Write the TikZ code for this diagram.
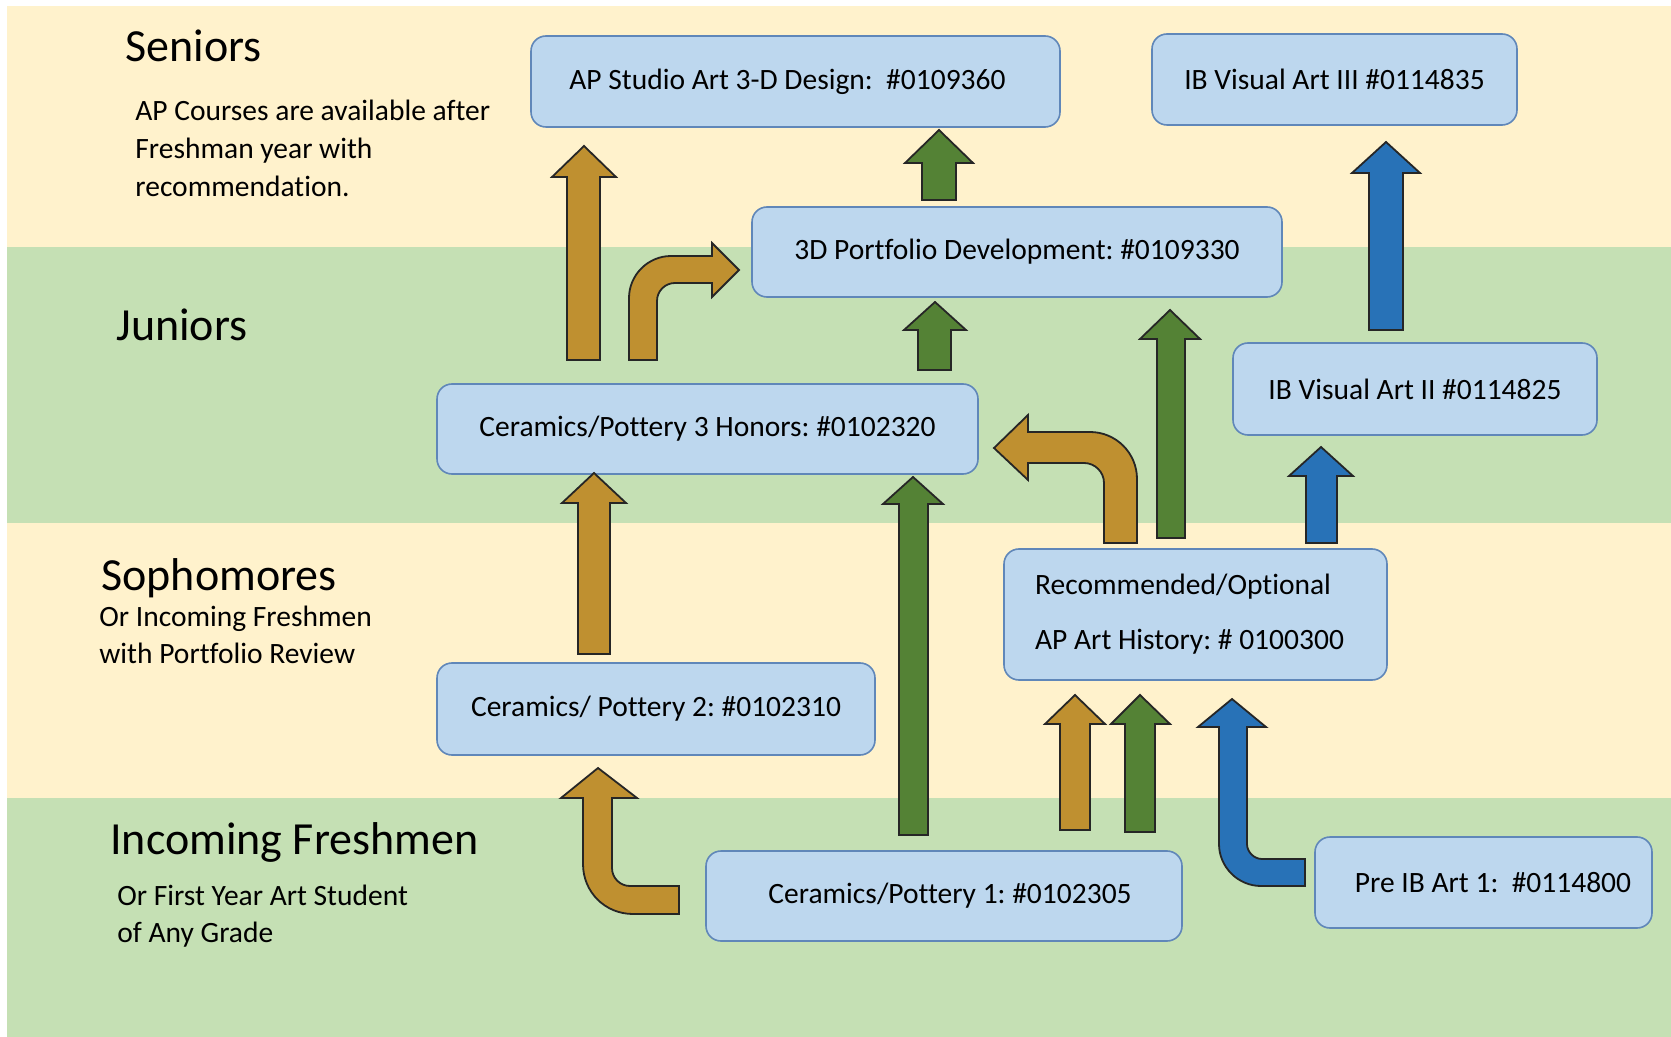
\documentclass[tikz,border=0pt]{standalone}
\usepackage{fontspec}
\setmainfont{Carlito}[Ligatures={NoCommon}]
\definecolor{cream}{RGB}{255,242,204}
\definecolor{lgreen}{RGB}{197,224,180}
\definecolor{boxfill}{RGB}{189,215,238}
\definecolor{boxline}{RGB}{96,135,185}
\definecolor{gold}{RGB}{191,144,48}
\definecolor{dgreen}{RGB}{84,130,53}
\definecolor{dblue}{RGB}{40,114,183}
\tikzset{
  course/.style={draw=boxline, fill=boxfill, line width=0.8pt, rounded corners=7.5pt,
    inner sep=0pt, font=\fontsize{14.75}{17}\selectfont},
  blockarrow/.style={draw=black!85, line width=0.9pt, line join=miter},
  heading/.style={anchor=base west, inner sep=0pt, font=\fontsize{23}{27}\selectfont},
  note/.style={anchor=base west, inner sep=0pt, font=\fontsize{14.75}{18}\selectfont},
}
% color, xl, xr, ybottom, yheadbase, headleft, headright, ytip, xtip
\newcommand\uparr[9]{\draw[blockarrow, fill=#1] (#2,#4) -- (#2,#5) -- (#6,#5) -- (#9,#8) -- (#7,#5) -- (#3,#5) -- (#3,#4) -- cycle;}
\begin{document}
\frenchspacing
\begin{tikzpicture}[x=0.5pt, y=-0.5pt]
\useasboundingbox (0,0) rectangle (1671,1037);
\fill[white] (0,0) rectangle (1671,1037);
% bands
\fill[cream]  (7,6)   rectangle (1671,247);
\fill[lgreen] (7,247) rectangle (1671,523);
\fill[cream]  (7,523) rectangle (1671,798);
\fill[lgreen] (7,798) rectangle (1671,1037);

% labels
\node[heading] (seniors) at (125,62) {Seniors};
\node[note] (sn1) at (135,121) {AP Courses are available after};
\node[note] (sn2) at (135,159) {Freshman year with};
\node[note] (sn3) at (135,197) {recommendation.};
\node[heading] (juniors) at (116,341) {Juniors};
\node[heading] (sophomores) at (101,590) {Sophomores};
\node[note] (so1) at (99,626) {Or Incoming Freshmen};
\node[note] (so2) at (99,663) {with Portfolio Review};
\node[heading] (freshmen) at (110,854) {Incoming Freshmen};
\node[note] (fr1) at (117,905) {Or First Year Art Student};
\node[note] (fr2) at (117,942) {of Any Grade};

% course boxes
\node[course, minimum width=264.5pt, minimum height=45.5pt] (apstudio) at (795.5,81.5) {AP Studio Art 3-D Design:\ \ \#0109360\hspace*{8pt}};
\node[course, minimum width=182.5pt, minimum height=45.5pt] (ib3) at (1334.5,79.5) {IB Visual Art III \#0114835};
\node[course, minimum width=265pt, minimum height=45pt] (port) at (1017,252) {3D Portfolio Development: \#0109330};
\node[course, minimum width=270.5pt, minimum height=45pt] (cer3) at (707.5,429) {Ceramics/Pottery 3 Honors: \#0102320};
\node[course, minimum width=182pt, minimum height=46pt] (ib2) at (1415,389) {IB Visual Art II \#0114825};
\node[course, minimum width=191.5pt, minimum height=65.5pt, align=left,
      font=\fontsize{14.75}{27.5}\selectfont] (arthist) at (1195.5,614.5) {Recommended/Optional\\AP Art History: \# 0100300\hspace*{6pt}};
\node[course, minimum width=219pt, minimum height=46pt] (cer2) at (656,709) {Ceramics/ Pottery 2: \#0102310};
\node[course, minimum width=238pt, minimum height=45pt] (cer1) at (944,896) {\hspace*{6pt}Ceramics/Pottery 1: \#0102305};
\node[course, minimum width=168.5pt, minimum height=45.5pt] (preib) at (1483.5,882.5) {\hspace*{9.5pt}Pre IB Art 1:\ \ \#0114800};

% straight block arrows
\uparr{gold}{567}{600}{360}{177}{552}{616}{146}{584}
\uparr{dgreen}{922}{956}{200}{163}{905}{973}{130}{939}
\uparr{dgreen}{918}{951}{370}{330}{904}{966}{302}{935}
\uparr{dgreen}{1157}{1185}{538}{339}{1140}{1200}{310}{1170}
\uparr{dblue}{1306}{1337}{543}{476}{1289}{1353}{447}{1321}
\uparr{gold}{1060}{1090}{830}{724}{1045}{1105}{695}{1075}
\uparr{dgreen}{1125}{1155}{832}{724}{1111}{1170}{695}{1140}
\uparr{dgreen}{899}{928}{835}{504}{883}{943}{477}{913}
\uparr{gold}{578}{610}{654}{503}{562}{626}{473}{594}
\uparr{dblue}{1369}{1403}{330}{173}{1352}{1420}{142}{1386}

% bent block arrows
\draw[blockarrow, fill=gold] (629,360) -- (629,298) .. controls (629,275) and (648,256) .. (671,256)
  -- (712,256) -- (712,243) -- (739,270) -- (712,297) -- (712,283) -- (675,283)
  .. controls (665,283) and (657,291) .. (657,301) -- (657,360) -- cycle;
\draw[blockarrow, fill=gold] (1137,543) -- (1137,479) .. controls (1137,453) and (1116,432) .. (1090,432)
  -- (1028,432) -- (1028,415) -- (994,448) -- (1028,480) -- (1028,463) -- (1084,463)
  .. controls (1095,463) and (1104,472) .. (1104,483) -- (1104,543) -- cycle;
\draw[blockarrow, fill=dblue] (1232,699) -- (1266,727) -- (1247,727) -- (1247,844)
  .. controls (1247,852) and (1254,859) .. (1262,859) -- (1305,859) -- (1305,886) -- (1261,886)
  .. controls (1238,886) and (1219,867) .. (1219,844) -- (1219,727) -- (1198,727) -- cycle;
\draw[blockarrow, fill=gold] (598,768) -- (637,798) -- (612,798) -- (612,868)
  .. controls (612,878) and (620,886) .. (630,886) -- (679,886) -- (679,914) -- (633,914)
  .. controls (605,914) and (583,892) .. (583,864) -- (583,798) -- (561,798) -- cycle;
\end{tikzpicture}
\end{document}
